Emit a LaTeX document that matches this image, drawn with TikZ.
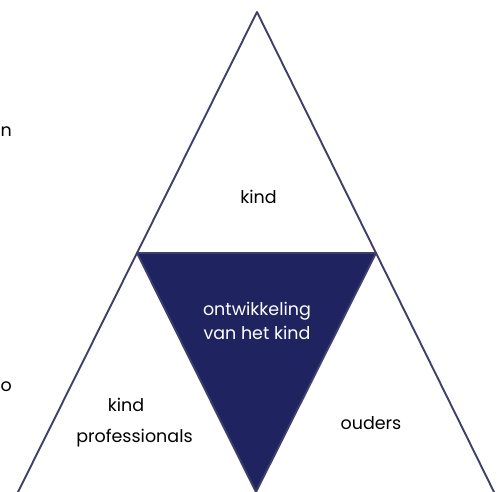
\documentclass[tikz,border=0pt]{standalone}
\usepackage{fontspec}
\setmainfont{Poppins}
\usetikzlibrary{calc}
\definecolor{edgeblue}{HTML}{3F3F6B}
\definecolor{deepnavy}{HTML}{1F2360}
\tikzset{
  edge/.style={line width=1.9pt, color=edgeblue, line join=round},
  lbl/.style={font=\fontsize{17.5}{24}\selectfont, align=center, inner sep=0pt}
}

\begin{document}
\begin{tikzpicture}[x=1pt, y=-1pt]
		%%%%% START %%%%%
		\useasboundingbox (0, 0) rectangle (504, 491);
		\clip (0, 0) rectangle (504, 491);
		
		\coordinate (top) at (257, 12);
		\coordinate (midL) at (137, 253);
		\coordinate (midR) at (376, 253);
		\coordinate (bot) at (256, 492);
		
		% inner triangle
		\draw[edge, fill=deepnavy] (midL) -- (midR) -- (bot) -- cycle;
		
		% outer triangle
		\draw[edge] ($(top)!1.995!(midL)$) -- (top) -- ($(top)!1.995!(midR)$);
		
		\node[lbl] (kind) at (258.5, 197) {kind};
		\node[lbl, text=white] (ontw) at (257, 320.5) {ontwikkeling\\van het kind};
		\node[lbl, font=\fontsize{17.5}{31}\selectfont] (prof) at (134.5, 423) {kind\kern17pt\\professionals};
		\node[lbl] (ouders) at (371, 423) {ouders};
		
		\node[lbl, anchor=west] (cutn) at (0.5, 132) {n};
		\node[lbl, anchor=west] (cuto) at (0.5, 387) {o};
		%%%%% END %%%%%
	\end{tikzpicture}
\end{document}
